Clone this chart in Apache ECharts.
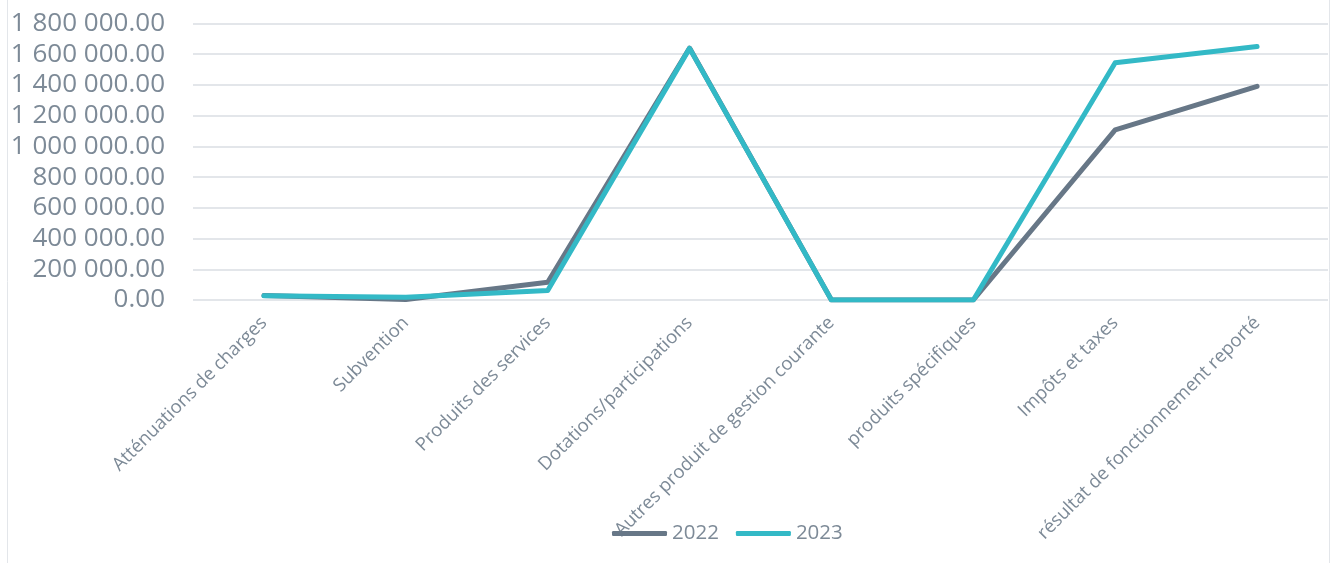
<!DOCTYPE html>
<html><head><meta charset="utf-8">
<script src="https://cdn.jsdelivr.net/npm/echarts@6/dist/echarts.min.js"></script>
<style>html,body{margin:0;padding:0;background:#fff}#c{width:1332px;height:563px}</style>
</head><body><div id="c"></div>
<script>
const categories = ["Atténuations de charges","Subvention","Produits des services","Dotations/participations","Autres produit de gestion courante","produits spécifiques","Impôts et taxes","résultat de fonctionnement reporté"];
const seriesNames = ["2022","2023"];
const values2022 = [30000, 3000, 115000, 1640000, 0, 0, 1107000, 1391000];
const values2023 = [27000, 18000, 62000, 1638000, 0, 0, 1545000, 1650000];
const yTicks = [0, 200000, 400000, 600000, 800000, 1000000, 1200000, 1400000, 1600000, 1800000];

function fmt(v){
  const s = Math.round(v).toString().replace(/\B(?=(\d{3})+(?!\d))/g, ' ');
  return s + '.00';
}
const chart = echarts.init(document.getElementById('c'));
const txt = '#7d8a97';
chart.setOption({
  animation:false,
  textStyle:{fontFamily:'Open Sans'},
  grid:{left:193, right:4, top:23.5, bottom:263, containLabel:false},
  graphic:[
    {type:'line', shape:{x1:7.5,y1:0,x2:7.5,y2:563}, style:{stroke:'#e3e6ea',lineWidth:1}},
    {type:'line', shape:{x1:1329.5,y1:0,x2:1329.5,y2:563}, style:{stroke:'#e3e6ea',lineWidth:1}}
  ],
  legend:{
    data:seriesNames.map(n=>({name:n, icon:'roundRect'})), bottom:14, left:607, padding:5, itemWidth:55, itemHeight:5, itemGap:17,
    textStyle:{color:txt, fontSize:20.5, fontFamily:'Open Sans'}
  },
  xAxis:{
    type:'category', data:categories, boundaryGap:true,
    axisLine:{show:false}, axisTick:{show:false},
    axisLabel:{rotate:45, color:txt, fontSize:18.5, margin:20, interval:0, fontFamily:'Open Sans'}
  },
  yAxis:{
    type:'value', min:0, max:1800000, interval:200000,
    axisLine:{show:false}, axisTick:{show:false},
    splitLine:{lineStyle:{color:'#e3e6ea', width:2}},
    axisLabel:{color:txt, fontSize:26, margin:28, formatter:fmt, fontFamily:'Open Sans'}
  },
  series:[
    {name:seriesNames[0], type:'line', data:values2022, symbol:'none', lineStyle:{color:'#677787', width:5, cap:'round', join:'round'}, itemStyle:{color:'#677787'}},
    {name:seriesNames[1], type:'line', data:values2023, symbol:'none', lineStyle:{color:'#33b9c6', width:5, cap:'round', join:'round'}, itemStyle:{color:'#33b9c6'}}
  ]
});
</script></body></html>
